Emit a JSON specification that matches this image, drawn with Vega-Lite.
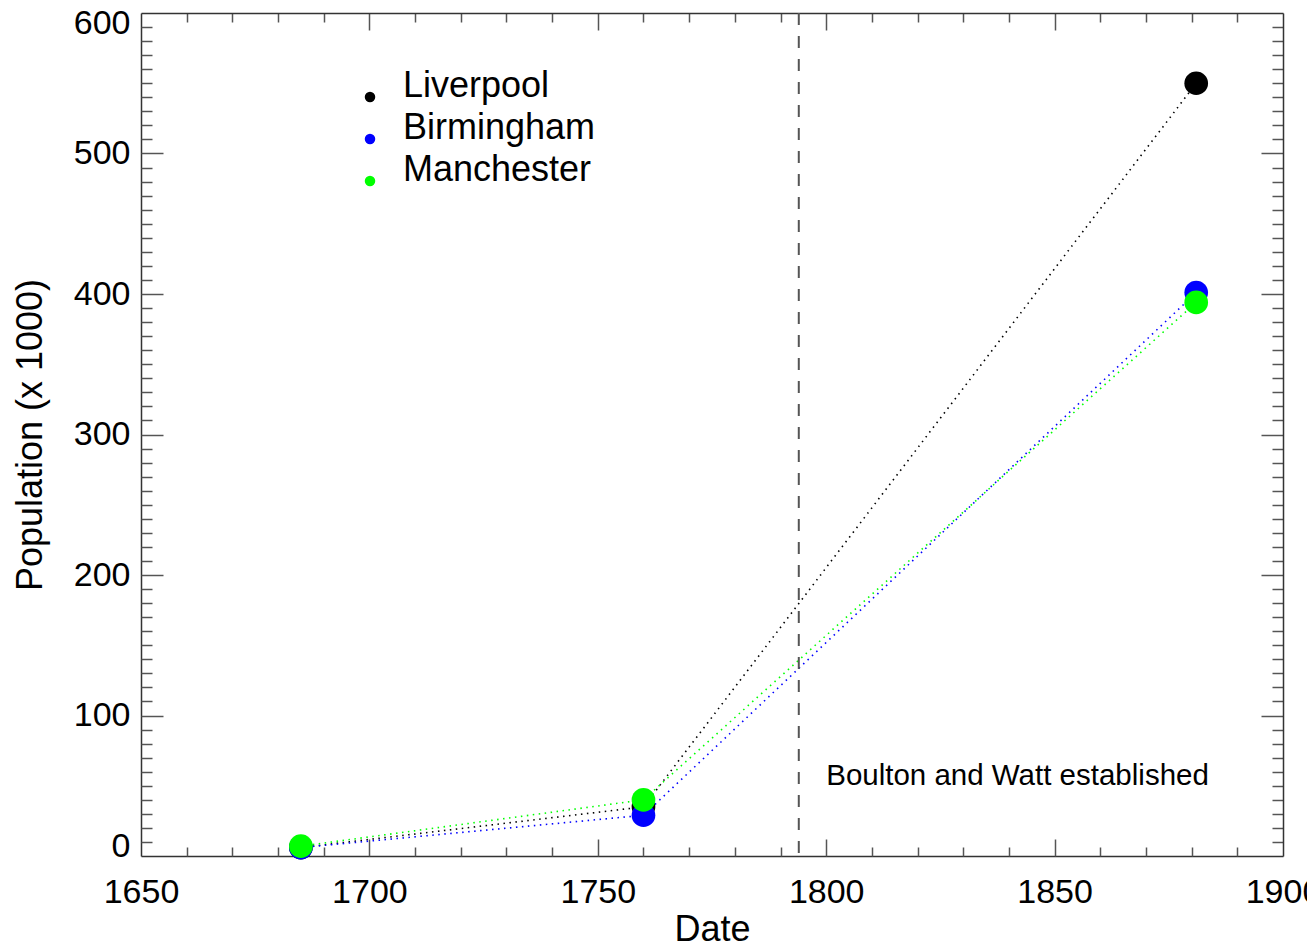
{
  "$schema": "https://vega.github.io/schema/vega-lite/v6.json",
  "width": 1142,
  "height": 843,
  "autosize": {"type": "none"},
  "padding": {"left": 141, "top": 13, "right": 24, "bottom": 89},
  "background": "white",
  "config": {
    "view": {"stroke": null},
    "font": "Liberation Sans",
    "axis": {"labelFont": "Liberation Sans", "titleFont": "Liberation Sans", "labelColor": "black", "titleColor": "black", "titleFontWeight": "normal", "grid": false, "domainColor": "#333333", "domainWidth": 1.5, "tickColor": "#555555", "tickWidth": 1.5}
  },
  "datasets": {
    "pop": [
      {"city": "Liverpool", "year": 1685, "pop": 6},
      {"city": "Liverpool", "year": 1760, "pop": 35},
      {"city": "Liverpool", "year": 1881, "pop": 550},
      {"city": "Birmingham", "year": 1685, "pop": 6},
      {"city": "Birmingham", "year": 1760, "pop": 29},
      {"city": "Birmingham", "year": 1881, "pop": 401},
      {"city": "Manchester", "year": 1685, "pop": 7},
      {"city": "Manchester", "year": 1760, "pop": 40},
      {"city": "Manchester", "year": 1881, "pop": 394}
    ],
    "events": [
      {"year": 1794, "label": "Boulton and Watt established", "labelYear": 1800, "labelPop": 57}
    ]
  },
  "resolve": {"axis": {"x": "independent", "y": "independent"}},
  "layer": [
    {
      "data": {"name": "pop"},
      "mark": {"type": "line", "strokeDash": [1.5, 4.5], "strokeWidth": 1.6},
      "encoding": {
        "x": {"field": "year", "type": "quantitative", "scale": {"domain": [1650, 1900], "nice": false, "zero": false},
          "axis": {"orient": "bottom", "title": "Date", "titleFontSize": 36, "titlePadding": 3, "labelFontSize": 34, "labelPadding": 19, "ticks": false, "domain": true, "values": [1650, 1700, 1750, 1800, 1850, 1900], "format": "d", "labelFlush": false, "labelOverlap": false}},
        "y": {"field": "pop", "type": "quantitative", "scale": {"domain": [0, 600], "nice": false, "zero": true},
          "axis": {"orient": "left", "title": "Population (x 1000)", "titleFontSize": 36, "titlePadding": 24, "labelFontSize": 34, "labelPadding": 11, "ticks": false, "domain": true, "values": [0, 100, 200, 300, 400, 500, 600], "format": "d", "labelFlush": true, "labelFlushOffset": 7, "labelOverlap": false}},
        "stroke": {"field": "city", "type": "nominal", "scale": {"domain": ["Birmingham", "Liverpool", "Manchester"], "range": ["#0000ff", "#000000", "#00ff00"]}, "legend": null},
        "detail": {"field": "city"}
      }
    },
    {
      "data": {"name": "pop"},
      "mark": {"type": "point", "shape": "circle", "filled": true, "opacity": 1, "size": 560},
      "encoding": {
        "x": {"field": "year", "type": "quantitative",
          "axis": {"orient": "bottom", "title": null, "labels": false, "domain": false, "ticks": true,
            "values": [1660, 1670, 1680, 1690, 1700, 1710, 1720, 1730, 1740, 1750, 1760, 1770, 1780, 1790, 1800, 1810, 1820, 1830, 1840, 1850, 1860, 1870, 1880, 1890],
            "tickSize": {"condition": {"test": "datum.value % 50 === 0", "value": -17}, "value": -9}}},
        "y": {"field": "pop", "type": "quantitative",
          "axis": {"orient": "left", "title": null, "labels": false, "domain": false, "ticks": true,
            "values": [10, 20, 30, 40, 50, 60, 70, 80, 90, 100, 110, 120, 130, 140, 150, 160, 170, 180, 190, 200, 210, 220, 230, 240, 250, 260, 270, 280, 290, 300, 310, 320, 330, 340, 350, 360, 370, 380, 390, 400, 410, 420, 430, 440, 450, 460, 470, 480, 490, 500, 510, 520, 530, 540, 550, 560, 570, 580, 590],
            "tickSize": {"condition": {"test": "datum.value % 100 === 0", "value": -22}, "value": -11}}},
        "color": {"field": "city", "type": "nominal",
          "scale": {"domain": ["Liverpool", "Birmingham", "Manchester"], "range": ["#000000", "#0000ff", "#00ff00"]},
          "legend": {"orient": "none", "legendX": 211, "legendY": 66, "title": null, "symbolType": "circle", "symbolSize": 110, "symbolStrokeWidth": 0, "labelFontSize": 36, "labelFont": "Liberation Sans", "labelColor": "black", "labelOffset": 15, "labelLimit": 0, "rowPadding": 6, "padding": 0, "labelBaseline": "alphabetic"}}
      }
    },
    {
      "data": {"name": "events"},
      "mark": {"type": "rule", "color": "#555555", "strokeWidth": 2, "strokeDash": [12, 11]},
      "encoding": {
        "x": {"field": "year", "type": "quantitative", "axis": null}
      }
    },
    {
      "data": {"name": "events"},
      "mark": {"type": "text", "align": "left", "baseline": "middle", "fontSize": 29.5, "font": "Liberation Sans", "color": "black"},
      "encoding": {
        "x": {"field": "labelYear", "type": "quantitative",
          "axis": {"orient": "top", "title": null, "labels": false, "domain": true, "ticks": true,
            "values": [1660, 1670, 1680, 1690, 1700, 1710, 1720, 1730, 1740, 1750, 1760, 1770, 1780, 1790, 1800, 1810, 1820, 1830, 1840, 1850, 1860, 1870, 1880, 1890],
            "tickSize": {"condition": {"test": "datum.value % 50 === 0", "value": -17}, "value": -9}}},
        "y": {"field": "labelPop", "type": "quantitative",
          "axis": {"orient": "right", "title": null, "labels": false, "domain": true, "ticks": true,
            "values": [10, 20, 30, 40, 50, 60, 70, 80, 90, 100, 110, 120, 130, 140, 150, 160, 170, 180, 190, 200, 210, 220, 230, 240, 250, 260, 270, 280, 290, 300, 310, 320, 330, 340, 350, 360, 370, 380, 390, 400, 410, 420, 430, 440, 450, 460, 470, 480, 490, 500, 510, 520, 530, 540, 550, 560, 570, 580, 590],
            "tickSize": {"condition": {"test": "datum.value % 100 === 0", "value": -22}, "value": -11}}},
        "text": {"field": "label"}
      }
    }
  ]
}
